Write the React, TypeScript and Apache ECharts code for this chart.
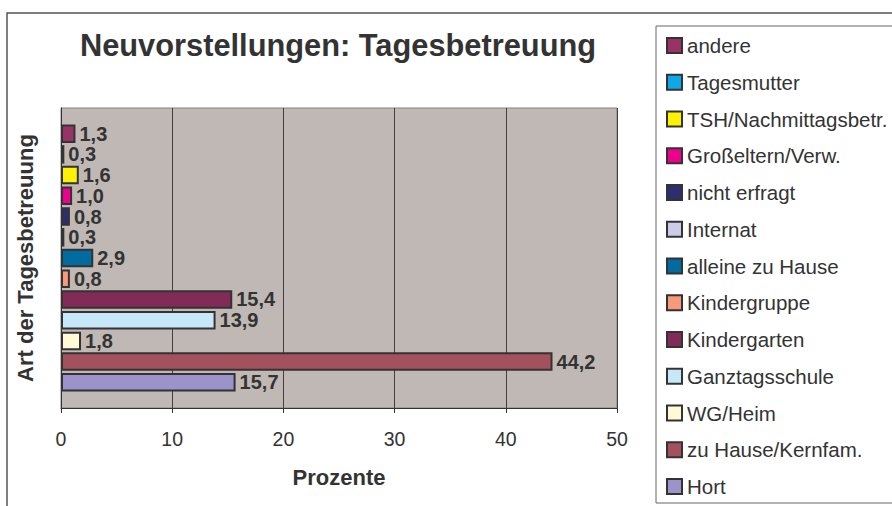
import React, { useEffect, useRef } from "react";
import * as echarts from "echarts";

const seriesNames = [
  "andere",
  "Tagesmutter",
  "TSH/Nachmittagsbetr.",
  "Großeltern/Verw.",
  "nicht erfragt",
  "Internat",
  "alleine zu Hause",
  "Kindergruppe",
  "Kindergarten",
  "Ganztagsschule",
  "WG/Heim",
  "zu Hause/Kernfam.",
  "Hort",
];
const seriesValues = [1.3, 0.3, 1.6, 1.0, 0.8, 0.3, 2.9, 0.8, 15.4, 13.9, 1.8, 44.2, 15.7];
const seriesColors = [
  "#993366",
  "#0FA8E6",
  "#FFF200",
  "#EC008C",
  "#2E2E6E",
  "#CCCCE8",
  "#006B9F",
  "#F7997A",
  "#812B56",
  "#C6E8F8",
  "#FFF9D6",
  "#A4515E",
  "#9B93C9",
];
const categories = [""];
const xTicks = { min: 0, max: 50, interval: 10 };

export default function App() {
  const ref = useRef<HTMLDivElement>(null);
  useEffect(() => {
    if (!ref.current) return;
    const chart = echarts.init(ref.current, null, { renderer: "svg" });
    const font = "Liberation Sans, Arial, sans-serif";
    chart.setOption({
      animation: false,
      backgroundColor: "#ffffff",
      textStyle: { fontFamily: font },
      title: {
        text: "Neuvorstellungen: Tagesbetreuung",
        left: 338,
        textAlign: "center",
        top: 30,
        padding: 0,
        textStyle: { fontSize: 30.8, fontWeight: "bold", color: "#333333", fontFamily: font },
      },
      graphic: [
        {
          type: "rect",
          shape: { x: 7, y: 13, width: 900, height: 600 },
          style: { fill: "none", stroke: "#555555", lineWidth: 1.5 },
          silent: true,
          z: -1,
        },
        {
          type: "rect",
          shape: { x: 656, y: 26, width: 260, height: 477 },
          style: { fill: "#ffffff", stroke: "#666666", lineWidth: 1 },
          silent: true,
          z: 0,
        },
      ],
      legend: {
        orient: "vertical",
        left: 666,
        top: 35,
        padding: 0,
        itemWidth: 15,
        itemHeight: 15,
        itemGap: 15.75,
        icon: "rect",
        data: seriesNames,
        itemStyle: { borderColor: "#333333", borderWidth: 2 },
        textStyle: {
          fontSize: 20.5,
          color: "#333333",
          fontFamily: font,
          padding: [0, 0, 0, 0],
        },
        z: 5,
      },
      grid: {
        left: 61,
        right: 275,
        top: 108,
        bottom: 98,
        show: true,
        backgroundColor: "#C0B8B4",
        borderColor: "#808080",
        borderWidth: 1,
      },
      xAxis: {
        type: "value",
        min: xTicks.min,
        max: xTicks.max,
        interval: xTicks.interval,
        name: "Prozente",
        nameLocation: "middle",
        nameGap: 58,
        nameTextStyle: { fontSize: 22, fontWeight: "bold", color: "#333333", fontFamily: font },
        axisLine: { show: true, lineStyle: { color: "#333333", width: 1 } },
        axisTick: { show: true, length: 5, lineStyle: { color: "#333333" } },
        axisLabel: { fontSize: 19.5, color: "#333333", margin: 21, fontFamily: font },
        splitLine: { show: true, lineStyle: { color: "#463F3F", width: 1 } },
      },
      yAxis: {
        type: "category",
        data: categories,
        name: "Art der Tagesbetreuung",
        nameLocation: "middle",
        nameRotate: 90,
        nameGap: 25,
        nameTextStyle: { fontSize: 22, fontWeight: "bold", color: "#333333", fontFamily: font },
        axisLine: { show: true, lineStyle: { color: "#333333" } },
        axisTick: { show: false },
        axisLabel: { show: false },
      },
      series: seriesNames.map((name, i) => ({
        name,
        type: "bar",
        data: [seriesValues[i]],
        barWidth: 18.5,
        barGap: "12%",
        itemStyle: { color: seriesColors[i], borderColor: "#333333", borderWidth: 2 },
        label: {
          show: true,
          position: "right",
          distance: 4,
          fontSize: 20,
          fontWeight: "bold",
          color: "#333333",
          fontFamily: font,
          formatter: (p: any) => Number(p.value).toFixed(1).replace(".", ","),
        },
      })),
    });
    return () => chart.dispose();
  }, []);
  return (
    <div
      ref={ref}
      style={{ position: "absolute", left: 0, top: 0, width: 892, height: 506 }}
    />
  );
}
